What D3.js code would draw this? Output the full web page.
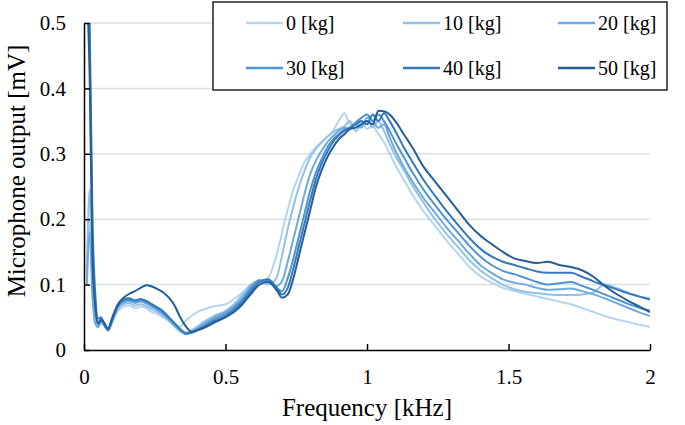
<!DOCTYPE html>
<html><head><meta charset="utf-8">
<script src="https://cdn.jsdelivr.net/npm/d3@7"></script>
<style>body{margin:0;background:#fff}text{font-family:"Liberation Serif","Times New Roman",serif;fill:#000}</style>
</head><body><svg id="c" width="685" height="425"></svg>
<script>
const freq = [0.01,0.02,0.03,0.04,0.05,0.06,0.07,0.085,0.1,0.12,0.14,0.16,0.18,0.2,0.22,0.24,0.26,0.28,0.3,0.32,0.34,0.36,0.38,0.4,0.43,0.46,0.5,0.53,0.56,0.59,0.62,0.65,0.68,0.7,0.72,0.74,0.76,0.78,0.8,0.82,0.84,0.86,0.88,0.9,0.92,0.94,0.96,0.98,1.0,1.02,1.04,1.06,1.08,1.1,1.13,1.16,1.2,1.24,1.28,1.32,1.36,1.4,1.44,1.48,1.52,1.56,1.6,1.64,1.68,1.72,1.76,1.8,1.84,1.88,1.92,1.96,2.0];
const kg0 = [0.1,0.2,0.09,0.045,0.037,0.045,0.04,0.03,0.042,0.06,0.066,0.068,0.064,0.066,0.064,0.058,0.055,0.05,0.044,0.037,0.036,0.045,0.052,0.058,0.063,0.067,0.07,0.078,0.088,0.1,0.104,0.11,0.145,0.18,0.215,0.245,0.268,0.288,0.3,0.31,0.318,0.326,0.335,0.35,0.362,0.345,0.34,0.35,0.338,0.342,0.33,0.318,0.3,0.283,0.26,0.238,0.212,0.19,0.168,0.148,0.128,0.113,0.103,0.095,0.09,0.086,0.082,0.078,0.074,0.07,0.064,0.058,0.052,0.047,0.043,0.039,0.035];
const kg10 = [0.12,0.245,0.1,0.05,0.036,0.046,0.04,0.03,0.044,0.064,0.07,0.072,0.068,0.07,0.067,0.062,0.058,0.052,0.045,0.036,0.028,0.025,0.03,0.036,0.045,0.052,0.06,0.07,0.085,0.1,0.106,0.1,0.11,0.145,0.185,0.22,0.25,0.275,0.295,0.308,0.318,0.326,0.333,0.338,0.342,0.35,0.335,0.345,0.35,0.34,0.35,0.335,0.315,0.297,0.275,0.252,0.225,0.2,0.178,0.158,0.138,0.122,0.11,0.1,0.093,0.089,0.087,0.085,0.084,0.084,0.085,0.088,0.1,0.095,0.088,0.082,0.079];
const kg20 = [0.1,0.18,0.08,0.04,0.035,0.042,0.038,0.031,0.045,0.066,0.073,0.075,0.072,0.074,0.071,0.066,0.061,0.055,0.047,0.038,0.03,0.024,0.027,0.033,0.042,0.05,0.058,0.067,0.08,0.097,0.107,0.104,0.098,0.105,0.135,0.17,0.205,0.24,0.27,0.29,0.305,0.318,0.327,0.335,0.34,0.338,0.345,0.34,0.355,0.35,0.34,0.345,0.325,0.305,0.28,0.258,0.232,0.21,0.188,0.168,0.148,0.13,0.118,0.108,0.103,0.1,0.095,0.092,0.093,0.094,0.09,0.085,0.079,0.072,0.065,0.058,0.052];
const kg30 = [0.58,0.46,0.16,0.07,0.042,0.048,0.04,0.03,0.046,0.067,0.075,0.077,0.074,0.076,0.073,0.068,0.063,0.057,0.048,0.04,0.031,0.025,0.026,0.031,0.039,0.047,0.055,0.064,0.077,0.094,0.106,0.106,0.095,0.09,0.11,0.14,0.175,0.21,0.245,0.272,0.292,0.31,0.322,0.33,0.337,0.34,0.348,0.355,0.36,0.35,0.36,0.35,0.335,0.318,0.295,0.272,0.245,0.222,0.2,0.18,0.16,0.143,0.13,0.121,0.116,0.11,0.104,0.1,0.102,0.104,0.098,0.092,0.085,0.078,0.071,0.065,0.06];
const kg40 = [0.6,0.5,0.2,0.085,0.048,0.05,0.042,0.032,0.047,0.068,0.077,0.079,0.076,0.078,0.075,0.07,0.065,0.059,0.05,0.041,0.032,0.026,0.027,0.03,0.037,0.044,0.052,0.061,0.074,0.09,0.104,0.108,0.096,0.085,0.095,0.125,0.16,0.195,0.23,0.262,0.285,0.303,0.318,0.328,0.335,0.34,0.345,0.35,0.345,0.36,0.35,0.362,0.35,0.335,0.31,0.288,0.26,0.236,0.213,0.192,0.172,0.155,0.143,0.135,0.13,0.125,0.12,0.118,0.118,0.118,0.112,0.105,0.099,0.093,0.087,0.082,0.077];
const kg50 = [0.55,0.42,0.14,0.065,0.04,0.046,0.042,0.033,0.05,0.07,0.08,0.086,0.09,0.095,0.099,0.097,0.093,0.088,0.08,0.068,0.05,0.036,0.028,0.03,0.035,0.042,0.05,0.058,0.07,0.086,0.1,0.104,0.092,0.08,0.085,0.11,0.145,0.18,0.215,0.25,0.275,0.295,0.31,0.322,0.33,0.338,0.34,0.345,0.35,0.345,0.366,0.365,0.36,0.35,0.33,0.31,0.28,0.258,0.236,0.214,0.192,0.175,0.162,0.15,0.14,0.136,0.133,0.135,0.13,0.127,0.122,0.112,0.098,0.086,0.076,0.067,0.058];
const seriesNames = ["0 [kg]","10 [kg]","20 [kg]","30 [kg]","40 [kg]","50 [kg]"];
const seriesValues = [kg0,kg10,kg20,kg30,kg40,kg50];
const seriesColors = ["#b5d5ee","#93c1e8","#6eaadf","#4f94d4","#3579bd","#255d96"];
const xTicks = [0,0.5,1,1.5,2];
const yTicks = [0,0.1,0.2,0.3,0.4,0.5];
const xTitle = "Frequency [kHz]";
const yTitle = "Microphone output [mV]";

const svg = d3.select("#c");
const L = 84, R = 650, T = 23, B = 350;
const x = d3.scaleLinear().domain([0,2]).range([L,R]);
const y = d3.scaleLinear().domain([0,0.5]).range([B,T]);

svg.append("defs").append("clipPath").attr("id","clip")
  .append("rect").attr("x",L).attr("y",T).attr("width",R-L).attr("height",B-T);

// gridlines
svg.append("g").selectAll("line").data(yTicks.filter(d=>d>0)).join("line")
  .attr("x1",L).attr("x2",R).attr("y1",d=>y(d)).attr("y2",d=>y(d))
  .attr("stroke","#d9e0e1").attr("stroke-width",1.5);

// series
const line = d3.line().x((d,i)=>x(freq[i])).y(d=>y(d)).curve(d3.curveMonotoneX);
svg.append("g").attr("clip-path","url(#clip)").selectAll("path").data(seriesValues).join("path")
  .attr("d",d=>line(d)).attr("fill","none")
  .attr("stroke",(d,i)=>seriesColors[i]).attr("stroke-width",2).attr("stroke-linejoin","round");

// axes
const xAxis = d3.axisBottom(x).tickValues(xTicks).tickFormat(d=>String(d)).tickSizeInner(-6).tickSizeOuter(0).tickPadding(19);
const gx = svg.append("g").attr("transform",`translate(0,${B})`).call(xAxis);
const yAxis = d3.axisLeft(y).tickValues(yTicks).tickFormat(d=>String(d)).tickSizeInner(-6).tickSizeOuter(0).tickPadding(18);
const gy = svg.append("g").attr("transform",`translate(${L},0)`).call(yAxis);
[gx,gy].forEach(g=>{
  g.select(".domain").attr("stroke","#000").attr("stroke-width",1.5);
  g.selectAll(".tick line").attr("stroke","#000").attr("stroke-width",1.5);
  g.selectAll(".tick text").attr("font-size",21).attr("font-family","Liberation Serif, serif").attr("fill","#000");
});

svg.append("text").attr("x",(L+R)/2).attr("y",416).attr("text-anchor","middle")
  .attr("font-size",25).text(xTitle);
svg.append("text").attr("transform","translate(25,171) rotate(-90)").attr("text-anchor","middle")
  .attr("font-size",25).text(yTitle);

// legend
const lg = svg.append("g");
lg.append("rect").attr("x",213).attr("y",2).attr("width",454).attr("height",88)
  .attr("fill","#fff").attr("stroke","#222").attr("stroke-width",1.5);
const colX = [246,403,558], rowY = [23,68];
const items = lg.selectAll("g.item").data(seriesNames).join("g").attr("class","item")
  .attr("transform",(d,i)=>`translate(${colX[i%3]},${rowY[Math.floor(i/3)]})`);
items.append("line").attr("x1",0).attr("x2",37).attr("y1",0).attr("y2",0)
  .attr("stroke",(d,i)=>seriesColors[i]).attr("stroke-width",2.5);
items.append("text").attr("x",40).attr("dy","0.35em").attr("font-size",20).text(d=>d);
</script>
</body></html>
